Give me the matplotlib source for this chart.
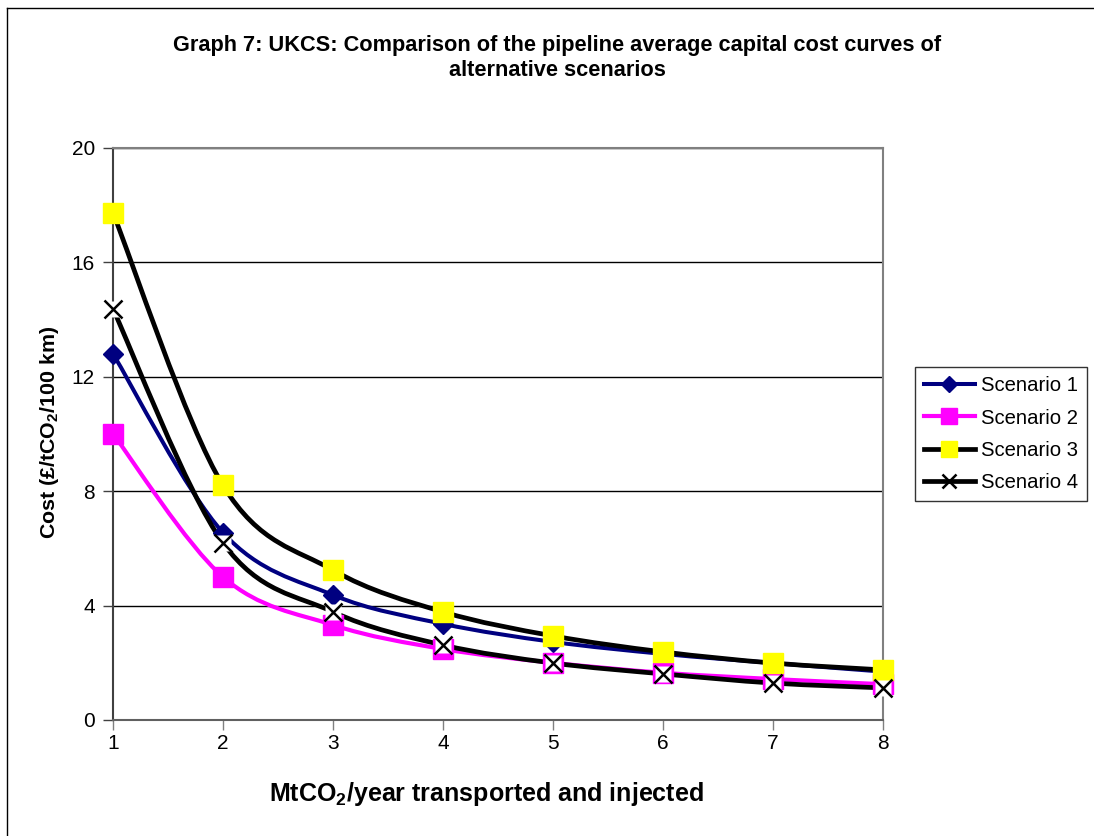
import matplotlib.pyplot as plt
import numpy as np
from matplotlib.path import Path
from matplotlib.patches import PathPatch
from matplotlib.lines import Line2D

plt.rcParams['font.family'] = ['Liberation Sans', 'DejaVu Sans']
plt.rcParams['mathtext.fontset'] = 'custom'
plt.rcParams['mathtext.rm'] = 'Liberation Sans'
plt.rcParams['mathtext.bf'] = 'Liberation Sans:bold'

volume = [1, 2, 3, 4, 5, 6, 7, 8]
scenario1 = [12.8, 6.55, 4.37, 3.36, 2.73, 2.31, 1.99, 1.69]
scenario2 = [10.0, 5.0, 3.32, 2.48, 2.0, 1.65, 1.43, 1.25]
scenario3 = [17.73, 8.2, 5.24, 3.78, 2.94, 2.38, 1.99, 1.75]
scenario4 = [14.37, 6.19, 3.78, 2.62, 1.99, 1.61, 1.29, 1.12]
labels = ['Scenario 1', 'Scenario 2', 'Scenario 3', 'Scenario 4']


def smooth_path(x, y):
    # Excel style smoothed line: cubic bezier through the points
    p = np.column_stack([x, y]).astype(float)
    n = len(p)
    verts = [p[0]]
    codes = [Path.MOVETO]
    for i in range(n - 1):
        p0 = p[i - 1] if i > 0 else p[i]
        p3 = p[i + 2] if i + 2 < n else p[i + 1]
        c1 = p[i] + (p[i + 1] - p0) / 6
        c2 = p[i + 1] - (p3 - p[i]) / 6
        verts += [c1, c2, p[i + 1]]
        codes += [Path.CURVE4] * 3
    return Path(verts, codes)


fig = plt.figure(figsize=(10.94, 8.36), dpi=100)
ax = fig.add_axes([0.1033, 0.1388, 0.7038, 0.6842])

# outer chart border (only top and left visible)
fig.add_artist(Line2D([7/1094, 1], [1 - 8/836, 1 - 8/836], color='black', lw=1, transform=fig.transFigure))
fig.add_artist(Line2D([7/1094, 7/1094], [0, 1 - 8/836], color='black', lw=1, transform=fig.transFigure))

series = [
    (scenario1, dict(color='#000080', lw=2.9), dict(marker='D', ms=10, mfc='#000080', mec='#000080')),
    (scenario2, dict(color='#ff00ff', lw=3.0), dict(marker='s', ms=14, mfc='#ff00ff', mec='#ff00ff')),
    (scenario3, dict(color='black', lw=3.4), dict(marker='s', ms=14, mfc='#ffff00', mec='#ffff00')),
    (scenario4, dict(color='black', lw=3.4), dict(marker='x', ms=13, mec='black', mew=1.8)),
]

handles = []
for k, (vals, lstyle, mstyle) in enumerate(series):
    ax.add_patch(PathPatch(smooth_path(volume, vals), fill=False, zorder=3 + k * 0.1,
                           edgecolor=lstyle['color'], lw=lstyle['lw'], capstyle='round'))
    if mstyle['marker'] == 'x':
        ax.plot(volume, vals, linestyle='none', marker='s', ms=12, mfc='white', mec='none',
                zorder=5 + k * 0.2, clip_on=False)
    ax.plot(volume, vals, linestyle='none', zorder=5.1 + k * 0.2, clip_on=False, **mstyle)
    leg_m = dict(mstyle)
    leg_m['ms'] = mstyle['ms'] * 0.8
    handles.append(Line2D([], [], label=labels[k], **lstyle, **leg_m))

ax.set_xlim(1, 8)
ax.set_ylim(0, 20)
ax.set_xticks(volume)
ax.set_yticks([0, 4, 8, 12, 16, 20])
ax.tick_params(direction='out', length=7, width=1, labelsize=15, colors='black')
ax.tick_params(axis='x', color='#808080', pad=3)
ax.tick_params(axis='y', color='#404040', pad=6)
ax.yaxis.grid(True, color='black', lw=1)
ax.set_axisbelow(True)
for side in ['top', 'right']:
    ax.spines[side].set_color('#808080')
ax.spines['bottom'].set_color('#606060')
ax.spines['left'].set_color('#404040')
for s in ax.spines.values():
    s.set_linewidth(1.5)

ax.set_xlabel(r'MtCO$_\mathbf{2}$/year transported and injected', fontsize=18, fontweight='bold')
ax.xaxis.set_label_coords(0.485, -0.105)
ax.set_ylabel(r'Cost (£/tCO$_\mathbf{2}$/100 km)', fontsize=15.4, fontweight='bold')
ax.yaxis.set_label_coords(-0.067, 0.502)

fig.text(0.5096, 0.9306, 'Graph 7: UKCS: Comparison of the pipeline average capital cost curves of\nalternative scenarios',
         ha='center', va='center', fontsize=15.7, fontweight='bold', linespacing=1.2)

leg = fig.legend(handles=handles, loc='upper left', bbox_to_anchor=(0.8364, 0.561), frameon=True,
                 fancybox=False, edgecolor='black', fontsize=14.6, handlelength=2.5, borderpad=0.45,
                 labelspacing=0.66, handletextpad=0.3, borderaxespad=0)
leg.get_frame().set_linewidth(1)

fig.set_facecolor('white')
fig.savefig('out.png', dpi=100)
